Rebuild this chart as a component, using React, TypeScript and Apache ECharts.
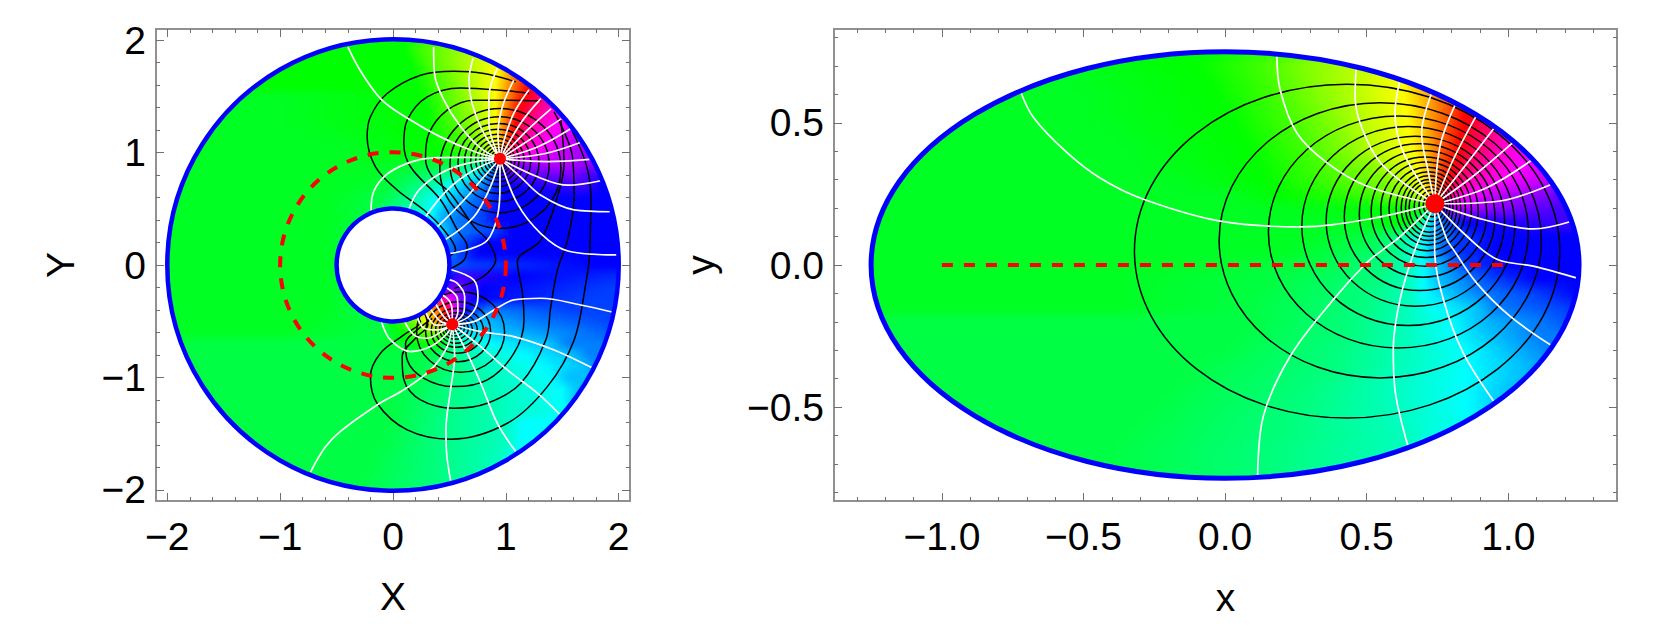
import React, { useEffect, useRef } from "react";
import * as echarts from "echarts";

// hue letters (degrees)
const HUES: Record<string, number> = { a: 0, b: 15, c: 30, d: 45, e: 60, f: 75, g: 90, h: 105, i: 120, I: 128, j: 136, k: 150, l: 165, m: 180, n: 195, o: 210, p: 225, q: 240, r: 255, s: 270, t: 285, u: 300, v: 315, w: 330, x: 345 };

// hue read along each row: letter + the x at which that hue is reached
const LEFT_ROWS_Y_TOP = 2.1, LEFT_STEP = 0.1, LEFT_X0 = -2.1, LEFT_COLS = 43;
const LEFT_ROWS = [
  "i.1 h.3 g.55 f.8 e1 d1.1 c1.2 b1.3 a1.4 x", "i.1 h.3 g.55 f.8 e1 d1.1 c1.2 b1.3 a1.4 x",
  "i.1 h.25 g.5 f.75 e.95 d1.05 c1.15 b1.25 a1.35 x", "i.15 h.3 g.5 f.72 e.93 d1.03 c1.13 b1.25 a1.35 x",
  "i.2 h.35 g.55 f.72 e.92 d1 c1.08 b1.17 a1.27 x1.35 w", "i.2 h.4 g.58 f.74 e.91 d.98 c1.05 b1.13 a1.22 x1.3 w1.4 v",
  "I-1 i.25 h.42 g.6 f.76 e.91 d.97 c1.03 b1.1 a1.17 x1.25 w1.35 v1.45 u", "I-1 i.3 h.45 g.62 f.78 e.91 d.96 c1.01 b1.07 a1.13 x1.2 w1.3 v1.4 u1.55 t",
  "I-1 i.3 h.5 g.66 f.8 e.91 d.95 c1 b1.05 a1.1 x1.15 w1.23 v1.33 u1.5 t", "I-.8 i.3 h.55 g.7 f.82 e.91 d.95 c.99 b1.03 a1.08 x1.13 w1.18 v1.27 u1.45 t1.65 s",
  "I-.5 i.35 h.6 g.75 f.85 e.92 d.95 c.98 b1.01 a1.05 x1.09 w1.14 v1.22 u1.38 t1.6 s1.9 r", "I-.3 i.4 h.7 g.82 f.88 e.92 c.96 a1.01 x1.04 w1.07 v1.12 u1.25 t1.55 s1.85 r",
  "I0 j.5 k.75 m.85 p.93 s1 t1.5 s1.85 r", "I-.2 j.1 k.45 l.6 m.72 n.8 o.85 q.95 r1 s1.6 r",
  "I-.4 j0 k.2 l.38 m.5 n.65 o.8 p.88 q1 r1.7 q", "I-.6 j-.1 k.1 l.25 m.4 n.55 o.7 p.85 q",
  "I-.6 j-.2 k0 l.2 m.35 n.45 o.6 p.8 q", "I-.6 j-.1 k.1 l.25 m.33 n.4 o.55 p.8 q",
  "I-.6 j-.3 l.2 m.4 o.55 p.9 q", "I-.6 j-.3 m.3 o.47 p.65 q",
  "I-.6 j-.3 n.3 p.6 q", "I-.6 j-.3 o.3 p.7 q1.8 q",
  "I-.6 j-.3 r.6 q1.1 p2.4 p", "I-.6 j-.3 s.55 r.65 q.8 p2 p",
  "I-.6 j-.3 w.42 t.55 r.65 q.75 p1.7 p", "I-.6 j-.3 c.4 a.47 u.55 q.64 o.84 p1.6 p",
  "I-.8 j-.1 i0 h.1 g.2 e.3 c.4 a.47 t.52 p.6 n.8 o1.2 p2 p", "I-1 j-.1 i.1 h.2 g.35 h.45 k.5 m.6 n.95 o1.6 p2.2 p",
  "j-.2 i.4 j.45 k.5 l.65 m.85 n1.4 o", "j.3 k.5 l.75 m1.15 n1.6 o",
  "j.2 k.55 l.85 m1.3 n1.7 o", "j.15 k.55 l.9 m1.4 n",
  "j.1 k.5 l.95 m1.5 n", "j0 k.45 l1 m1.5 n",
  "j0 k.45 l1 m1.6 n", "j0 k.4 l1 m",
  "j-.1 k.4 l1 m", "j-.1 k.4 l1 m",
  "j-.2 k.4 l.95 m", "j-.2 k.4 l.95 m",
  "j-.3 k.4 l.9 m", "j-.3 k.4 l.9 m", "j-.3 k.4 l.9 m",
];

const RIGHT_ROWS_Y_TOP = 0.8, RIGHT_STEP = 0.05, RIGHT_X0 = -1.3, RIGHT_COLS = 53;
const RIGHT_ROWS = [
  "I-.7 i-.05 h.2 g.35 f.5 e.62 d.68 c.75 b.82 a.87 x.92 w.98 v1.03 u1.08 t1.14 s1.19 r1.22 q",
  "I-.7 i-.05 h.2 g.35 f.5 e.62 d.68 c.75 b.82 a.87 x.92 w.98 v1.03 u1.08 t1.14 s1.19 r1.22 q",
  "I-.6 i-.1 h.12 g.28 f.47 e.625 d.69 c.76 b.82 a.87 x.92 w.98 v1.03 u1.08 t1.14 s1.19 r1.22 q",
  "I-.55 i-.06 h.15 g.3 f.47 e.63 d.69 c.76 b.81 a.865 x.92 w.98 v1.03 u1.08 t1.14 s1.19 r",
  "I-.5 i-.03 h.17 g.32 f.48 e.63 d.695 c.755 b.81 a.86 x.92 w.98 v1.03 u1.08 t1.14 s",
  "I-.5 i0 h.2 g.35 f.49 e.64 d.7 c.75 b.805 a.85 x.905 w.965 v1.015 u1.08 t1.15 s",
  "I-.45 i.03 h.22 g.38 f.5 e.645 d.7 c.745 b.8 a.845 x.89 w.95 v1 u1.08 t1.17 s",
  "I-.4 i.06 h.25 g.4 f.52 e.655 d.705 c.745 b.79 a.835 x.875 w.93 v.98 u1.06 t1.17 s",
  "I-.35 i.09 h.28 g.43 f.54 e.665 d.71 c.74 b.78 a.825 x.86 w.91 v.96 u1.06 t1.15 s1.25 r",
  "I-.3 i.12 h.32 g.5 f.6 e.68 d.715 c.74 b.77 a.81 x.835 w.875 v.93 u1.03 t1.2 s",
  "I-.2 i.14 h.36 g.57 f.64 e.695 d.72 c.74 b.76 a.79 x.81 w.84 v.88 u.98 t1.14 s",
  "I0 i.2 h.5 g.62 f.68 e.7 d.72 c.74 b.755 a.77 w.79 u.85 t.97 s1.15 r1.21 q",
  "I.1 i.7 t.8 s1 r1.2 q",
  "I.4 i.65 l.7 o.75 q.85 r1.2 q",
  "I.3 j.5 k.6 l.65 m.7 n.73 o.77 p.82 q",
  "I.2 j.4 k.6 l.65 m.7 o.75 p.8 q",
  "I-.3 j.3 k.55 l.65 m.7 n.75 o.8 p.85 q",
  "I-.4 j.2 k.55 l.65 m.7 n.75 o.85 p.95 q",
  "I-.4 j.15 k.5 l.65 m.7 n.8 o.9 p1.1 q",
  "I-.4 j.1 k.5 l.65 m.75 n.9 o.95 p1.2 q",
  "j.1 k.45 l.65 m.8 n.9 o1.1 p",
  "j.05 k.45 l.65 m.8 n.95 o",
  "j0 k.4 l.65 m.85 n1 o",
  "j-.1 k.4 l.65 m.85 n1.05 o",
  "j-.15 k.35 l.6 m.85 n1.05 o",
  "j-.2 k.3 l.6 m.85 n",
  "j-.25 k.3 l.6 m.85 n",
  "j-.3 k.25 l.6 m.9 n",
  "j-.35 k.25 l.65 m",
  "j-.4 k.2 l.65 m",
  "j-.4 k.2 l.65 m",
  "j-.4 k.2 l.65 m",
  "j-.4 k.2 l.65 m",
];

// closed black contours: [centre x, semi-axis x, centre y, semi-axis y]
const LEFT_RINGS = [
  [0.951, 0.536, 0.859, 0.533], [0.944, 0.439, 0.892, 0.427], [0.935, 0.359, 0.911, 0.348], [0.927, 0.293, 0.923, 0.286],
  [0.925, 0.237, 0.93, 0.234], [0.925, 0.192, 0.933, 0.193], [0.925, 0.154, 0.933, 0.157], [0.927, 0.121, 0.935, 0.126],
  [0.93, 0.095, 0.936, 0.1], [0.933, 0.071, 0.936, 0.08], [0.94, 0.05, 0.94, 0.055],
  [0.599, 0.39, -0.596, 0.359], [0.577, 0.288, -0.593, 0.267], [0.57, 0.231, -0.585, 0.2], [0.562, 0.185, -0.578, 0.154],
  [0.558, 0.145, -0.575, 0.121], [0.553, 0.114, -0.568, 0.093], [0.547, 0.087, -0.56, 0.071], [0.54, 0.065, -0.55, 0.055], [0.535, 0.045, -0.54, 0.04],
];
const RIGHT_RINGS = [
  [0.431, 0.751, 0.049, 0.587], [0.548, 0.569, 0.087, 0.484], [0.612, 0.459, 0.116, 0.408], [0.647, 0.376, 0.137, 0.35],
  [0.672, 0.315, 0.154, 0.299], [0.687, 0.266, 0.168, 0.258], [0.699, 0.225, 0.18, 0.223], [0.705, 0.189, 0.188, 0.192],
  [0.71, 0.16, 0.194, 0.168], [0.714, 0.135, 0.197, 0.147], [0.718, 0.114, 0.199, 0.129], [0.72, 0.098, 0.2, 0.114],
  [0.721, 0.084, 0.201, 0.1], [0.722, 0.072, 0.202, 0.087], [0.726, 0.058, 0.205, 0.07], [0.73, 0.045, 0.208, 0.055], [0.733, 0.033, 0.21, 0.04],
];

// open black contours, left panel
const LEFT_BLACK = [
  [[1.087,1.63],[0.806,1.704],[0.54,1.725],[0.244,1.689],[-0.052,1.526],[-0.2,1.319],[-0.229,1.141],[-0.155,0.874],[0.037,0.667],[0.274,0.489],[0.451,0.311],[0.555,0.133],[0.5,0.08]],
  [[1.206,1.526],[0.954,1.556],[0.599,1.576],[0.303,1.496],[0.126,1.289],[0.096,1.082],[0.155,0.874],[0.422,0.578],[0.57,0.311],[0.658,0.163],[0.629,0.044],[0.51,-0.03]],
  [[1.309,1.461],[1.013,1.467],[0.717,1.467],[0.481,1.378],[0.318,1.17],[0.288,0.945],[0.348,0.785],[0.51,0.637],[0.717,0.341],[0.836,0.222],[0.91,0.044],[0.836,-0.074],[0.717,-0.148],[0.54,-0.208]],
  [[1.57,1.23],[1.709,0.904],[1.753,0.608],[1.747,0.222],[1.738,0.044],[1.709,-0.163],[1.605,-0.667],[1.368,-1.082],[1.013,-1.408],[0.51,-1.55],[0.126,-1.467],[-0.141,-1.23],[-0.2,-0.993],[-0.111,-0.785],[0.096,-0.622],[0.244,-0.504],[0.2,-0.46]],
  [[1.427,1.363],[1.59,0.963],[1.605,0.608],[1.546,0.222],[1.457,-0.045],[1.398,-0.37],[1.354,-0.667],[1.132,-1.052],[0.836,-1.23],[0.54,-1.274],[0.244,-1.2],[0.096,-1.02],[0.081,-0.815],[0.214,-0.637],[0.309,-0.534],[0.28,-0.43]],
  [[1.487,1.289],[1.516,0.904],[1.457,0.608],[1.309,0.222],[1.102,0.03],[1.147,-0.252],[1.161,-0.489],[1.072,-0.785],[0.836,-1.022],[0.54,-1.082],[0.274,-1.008],[0.126,-0.845],[0.111,-0.697],[0.214,-0.578],[0.348,-0.474]],
];

const P1 = [0.948, 0.945];
const P2 = [0.525, -0.527];
const LEFT_WHITE = [
  [[-0.4,1.94],[-0.29,1.73],[-0.1,1.47],[0.155,1.29],[0.42,1.14],[0.72,1.01],P1],
  [[0.36,1.94],[0.368,1.7],[0.45,1.47],[0.6,1.23],[0.776,1.04],P1],
  [[0.71,1.84],[0.673,1.645],[0.7,1.44],[0.79,1.2],P1],
  [[0.925,1.75],[0.85,1.5],[0.85,1.26],P1],
  [[1.07,1.645],[0.97,1.41],[0.93,1.17],P1],
  [[1.205,1.56],[1.07,1.35],[0.984,1.11],P1],
  [[1.31,1.48],[1.13,1.26],P1],
  [[1.4,1.39],[1.19,1.2],P1],
  [[1.49,1.3],[1.25,1.14],P1],
  [[1.57,1.21],[1.28,1.05],P1],
  [[1.66,1.09],[1.34,0.99],P1],
  [[1.74,0.94],[1.37,0.92],[1.13,0.93],P1],
  [[1.84,0.75],[1.55,0.71],[1.28,0.785],P1],
  [[1.92,0.474],[1.605,0.49],[1.31,0.62],[1.13,0.785],P1],
  [P1,[1.1,0.55],[1.31,0.28],[1.55,0.125],[1.99,0.09]],
  [P1,[0.948,0.7],[0.925,0.43],[0.836,0.22],[0.673,0.14],[0.49,0.1]],
  [[-0.194,0.474],[-0.185,0.607],[-0.08,0.785],[0.126,0.904],[0.362,0.954],[0.658,0.957],P1],
  [[0.14,0.495],[0.23,0.667],[0.42,0.815],[0.658,0.904],P1],
  [[0.288,0.43],[0.48,0.667],[0.717,0.845],P1],
  [[0.392,0.34],[0.629,0.578],[0.806,0.785],P1],
  [[0.466,0.228],[0.717,0.43],[0.865,0.7],P1],
  [P2,[0.546,-0.815],[0.51,-1.11],[0.469,-1.467],[0.475,-1.675],[0.51,-1.917]],
  [P2,[0.658,-0.785],[0.777,-1.05],[0.925,-1.41],[1.087,-1.66]],
  [P2,[0.777,-0.726],[1.013,-0.934],[1.28,-1.14],[1.478,-1.33]],
  [P2,[0.777,-0.593],[1.07,-0.637],[1.427,-0.756],[1.759,-0.913]],
  [P2,[0.717,-0.504],[0.895,-0.4],[1.07,-0.311],[1.309,-0.296],[1.664,-0.356],[1.94,-0.418]],
  [P2,[0.481,-0.726],[0.333,-0.934],[0.096,-1.11],[-0.14,-1.245],[-0.466,-1.48],[-0.6,-1.62],[-0.73,-1.84]],
  [P2,[0.688,-0.445],[0.753,-0.282],[0.717,-0.134],[0.51,-0.04]],
  [P2,[0.629,-0.415],[0.635,-0.282],[0.57,-0.163],[0.481,-0.128]],
  [P2,[0.575,-0.415],[0.57,-0.296],[0.47,-0.2]],
  [P2,[0.525,-0.415],[0.504,-0.326],[0.43,-0.26]],
  [[-0.102,-0.504],[-0.022,-0.667],[0.155,-0.77],[0.333,-0.726],[0.481,-0.608],P2],
  [[0.096,-0.489],[0.185,-0.622],[0.303,-0.652],[0.451,-0.578],P2],
  [[0.215,-0.46],[0.274,-0.563],[0.392,-0.578],P2],
  [[0.288,-0.42],[0.38,-0.535],P2],
  [[0.333,-0.39],[0.42,-0.5],P2],
  [[0.377,-0.345],[0.45,-0.46],P2],
  [[0.42,-0.29],[0.48,-0.42],P2],
];

const P3 = [0.741, 0.215];
const RIGHT_WHITE = [
  [[-0.723,0.612],[-0.676,0.518],[-0.558,0.395],[-0.44,0.305],[-0.288,0.231],[-0.017,0.154],[0.265,0.134],[0.5,0.16],P3],
  [[0.183,0.741],[0.194,0.618],[0.253,0.465],[0.359,0.36],[0.5,0.278],P3],
  [[0.463,0.694],[0.459,0.594],[0.5,0.442],[0.571,0.336],P3],
  [[0.618,0.651],[0.6,0.536],[0.63,0.395],P3],
  [[0.73,0.606],[0.694,0.465],[0.718,0.325],P3],
  [[0.814,0.567],[0.759,0.418],P3],
  [[0.888,0.526],[0.806,0.371],P3],
  [[0.953,0.485],[0.847,0.348],P3],
  [[1.018,0.432],[0.877,0.313],P3],
  [[1.086,0.371],[0.924,0.272],P3],
  [[1.157,0.286],[0.971,0.225],P3],
  [[1.224,0.154],[1.088,0.127],[0.912,0.16],P3],
  [P3,[0.853,0.102],[0.96,0.02],[1.088,-0.004],[1.25,-0.048]],
  [P3,[0.783,0.09],[0.806,0.055],[0.888,-0.063],[1.006,-0.18],[1.157,-0.286]],
  [P3,[0.74,0.055],[0.771,-0.121],[0.841,-0.309],[0.953,-0.485]],
  [P3,[0.671,0.055],[0.618,-0.121],[0.594,-0.297],[0.6,-0.438],[0.647,-0.64]],
  [P3,[0.618,0.1],[0.559,0.055],[0.5,0.008],[0.383,-0.121],[0.23,-0.321],[0.135,-0.532],[0.115,-0.744]],
];

const RIGHT_DASH = [[-1, 0], [1, 0]];
const LEFT_RADII = { outer: 2, hole: 0.5, dash: 1 };
const RIGHT_SEMI = { a: 1.25, b: 0.75 };
const LEFT_POLES = [P1, P2];
const RIGHT_POLES = [P3];

const LEFT_MAJOR = [-2, -1, 0, 1, 2];
const LEFT_MINOR = [-2, -1.8, -1.6, -1.4, -1.2, -1, -0.8, -0.6, -0.4, -0.2, 0, 0.2, 0.4, 0.6, 0.8, 1, 1.2, 1.4, 1.6, 1.8, 2];
const RIGHT_X_MAJOR = [-1, -0.5, 0, 0.5, 1];
const RIGHT_X_MINOR = [-1.3, -1.2, -1.1, -1, -0.9, -0.8, -0.7, -0.6, -0.5, -0.4, -0.3, -0.2, -0.1, 0, 0.1, 0.2, 0.3, 0.4, 0.5, 0.6, 0.7, 0.8, 0.9, 1, 1.1, 1.2, 1.3];
const RIGHT_Y_MAJOR = [-0.5, 0, 0.5];
const RIGHT_Y_MINOR = [-0.8, -0.7, -0.6, -0.5, -0.4, -0.3, -0.2, -0.1, 0, 0.1, 0.2, 0.3, 0.4, 0.5, 0.6, 0.7, 0.8];

const FONT = "Liberation Sans";
const FS = 39;
const BLUE = "#0000ff";
const RED = "#ff0000";
const FINE = 4;

function hsv(h: number) {
  const c = (n: number) => {
    const k = (n + h / 60) % 6;
    return Math.round(255 * (1 - Math.max(0, Math.min(k, 4 - k, 1))));
  };
  return [c(5), c(3), c(1)];
}

function bandsImage(rows: string[], x0: number, step: number, cols: number) {
  const w = cols * FINE;
  const cv = document.createElement("canvas");
  cv.width = w;
  cv.height = rows.length;
  const ctx = cv.getContext("2d")!;
  const im = ctx.createImageData(w, rows.length);
  rows.forEach((row, r) => {
    const raw = row.split(" ");
    const tokens = raw.map((t, i) => ({ h: HUES[t[0]], at: t.length > 1 ? parseFloat(t.slice(1)) : parseFloat(raw[i - 1].slice(1)) + 0.15 }));
    for (let c = 0; c < w; c++) {
      const x = x0 - step / 2 + ((c + 0.5) * step) / FINE;
      let h = tokens[tokens.length - 1].h;
      if (x <= tokens[0].at) h = tokens[0].h;
      else
        for (let k = 1; k < tokens.length; k++) {
          if (x <= tokens[k].at) {
            const a = tokens[k - 1], b = tokens[k];
            const d = ((b.h - a.h + 540) % 360) - 180;
            h = (a.h + (d * (x - a.at)) / (b.at - a.at) + 360) % 360;
            break;
          }
        }
      const [R, G, B] = hsv(h);
      const o = (r * w + c) * 4;
      im.data[o] = R; im.data[o + 1] = G; im.data[o + 2] = B; im.data[o + 3] = 255;
    }
  });
  ctx.putImageData(im, 0, 0);
  const big = document.createElement("canvas");
  big.width = w;
  big.height = rows.length * FINE;
  const bctx = big.getContext("2d")!;
  bctx.imageSmoothingEnabled = true;
  bctx.imageSmoothingQuality = "high";
  bctx.drawImage(cv, 0, 0, big.width, big.height);
  return big.toDataURL();
}

function axes(kind: "x" | "y", grid: number, ext: number[], major: number[], minor: number[], name: string, fmt: (v: number) => string, gap: number) {
  const pos = kind === "x" ? ["bottom", "top"] : ["left", "right"];
  const base = (p: string, vals: number[], len: number) => ({
    type: "value", gridIndex: grid, position: p, min: ext[0], max: ext[1],
    splitLine: { show: false },
    axisLine: { show: true, onZero: false, lineStyle: { color: "#8a8a8a", width: 1.5 } },
    axisTick: { show: true, inside: true, length: len, customValues: vals, lineStyle: { color: "#707070", width: 1 } },
    axisLabel: { show: false },
  });
  const main: any = base(pos[0], major, 8);
  main.axisLabel = { show: true, customValues: major, formatter: fmt, fontFamily: FONT, fontSize: FS, color: "#000", margin: kind === "x" ? 16 : 10 };
  main.name = name;
  main.nameLocation = "middle";
  main.nameGap = gap;
  main.nameTextStyle = { fontFamily: FONT, fontSize: FS, color: "#000" };
  return [main, base(pos[0], minor, 4), base(pos[1], major, 8), base(pos[1], minor, 4)];
}

function lineSeries(pts: number[][], color: string, width: number, ax: number) {
  return { type: "line", data: pts, smooth: 0.35, symbol: "none", silent: true, xAxisIndex: ax, yAxisIndex: ax, lineStyle: { color, width }, z: 3 };
}

export default function App() {
  const ref = useRef<HTMLDivElement>(null);
  useEffect(() => {
    const chart = echarts.init(ref.current!, undefined, { renderer: "svg" });
    const leftImg = bandsImage(LEFT_ROWS, LEFT_X0, LEFT_STEP, LEFT_COLS);
    const rightImg = bandsImage(RIGHT_ROWS, RIGHT_X0, RIGHT_STEP, RIGHT_COLS);
    const lf = (v: number) => String(v).replace("-", "\u2212");
    const rf = (v: number) => v.toFixed(1).replace("-", "\u2212");

    const fillSeries = (ax: number, img: string, x0: number, yTop: number, step: number, cols: number, nRows: number, rings: number[][], clip: (api: any) => any) => ({
      type: "custom", xAxisIndex: ax, yAxisIndex: ax, silent: true, data: [[0, 0]], z: 2,
      renderItem: (_: any, api: any) => {
        const tl = api.coord([x0 - step / 2, yTop + step / 2]);
        const br = api.coord([x0 + (cols - 0.5) * step, yTop - (nRows - 0.5) * step]);
        const children: any[] = [{ type: "image", style: { image: img, x: tl[0], y: tl[1], width: br[0] - tl[0], height: br[1] - tl[1] } }];
        rings.forEach((r) => {
          const c = api.coord([r[0], r[2]]);
          const s = api.size([r[1], r[3]], [r[0], r[2]]);
          children.push({ type: "ellipse", shape: { cx: c[0], cy: c[1], rx: s[0], ry: s[1] }, style: { fill: "none", stroke: "#000", lineWidth: 1.5 } });
        });
        return { type: "group", children, clipPath: clip(api) };
      },
    });

    const leftClip = (api: any) => {
      const c = api.coord([0, 0]);
      const s = api.size([LEFT_RADII.outer, LEFT_RADII.outer], [0, 0]);
      return { type: "ellipse", shape: { cx: c[0], cy: c[1], rx: s[0], ry: s[1] } };
    };
    const rightClip = (api: any) => {
      const c = api.coord([0, 0]);
      const s = api.size([RIGHT_SEMI.a, RIGHT_SEMI.b], [0, 0]);
      return { type: "ellipse", shape: { cx: c[0], cy: c[1], rx: s[0], ry: s[1] } };
    };

    const option: any = {
      animation: false,
      grid: [
        { left: 156, top: 29, width: 474, height: 472 },
        { left: 834, top: 29, width: 783, height: 472 },
      ],
      xAxis: [
        ...axes("x", 0, [-2.1, 2.1], LEFT_MAJOR, LEFT_MINOR, "X", lf, 76),
        ...axes("x", 1, [-1.381, 1.384], RIGHT_X_MAJOR, RIGHT_X_MINOR, "x", rf, 77),
      ],
      yAxis: [
        ...axes("y", 0, [-2.1, 2.1], LEFT_MAJOR, LEFT_MINOR, "Y", lf, 76),
        ...axes("y", 1, [-0.83, 0.83], RIGHT_Y_MAJOR, RIGHT_Y_MINOR, "y", rf, 114),
      ],
      series: [
        fillSeries(0, leftImg, LEFT_X0, LEFT_ROWS_Y_TOP, LEFT_STEP, LEFT_COLS, LEFT_ROWS.length, LEFT_RINGS, leftClip),
        fillSeries(4, rightImg, RIGHT_X0, RIGHT_ROWS_Y_TOP, RIGHT_STEP, RIGHT_COLS, RIGHT_ROWS.length, RIGHT_RINGS, rightClip),
        ...LEFT_BLACK.map((p) => lineSeries(p, "#000", 1.5, 0)),
        ...LEFT_WHITE.map((p) => lineSeries(p, "#fff", 1.7, 0)),
        ...RIGHT_WHITE.map((p) => lineSeries(p, "#fff", 1.7, 4)),
        {
          type: "custom", xAxisIndex: 0, yAxisIndex: 0, silent: true, data: [[0, 0]], z: 4,
          renderItem: (_: any, api: any) => {
            const c = api.coord([0, 0]);
            const px = (r: number) => api.size([r, r], [0, 0])[0];
            return {
              type: "group",
              children: [
                { type: "circle", shape: { cx: c[0], cy: c[1], r: px(LEFT_RADII.outer) }, style: { fill: "none", stroke: BLUE, lineWidth: 4.5 } },
                { type: "circle", shape: { cx: c[0], cy: c[1], r: px(LEFT_RADII.hole) }, style: { fill: "#fff", stroke: BLUE, lineWidth: 4.5 } },
                { type: "circle", shape: { cx: c[0], cy: c[1], r: px(LEFT_RADII.dash) }, style: { fill: "none", stroke: RED, lineWidth: 4, lineDash: [11, 11] } },
              ],
            };
          },
        },
        {
          type: "custom", xAxisIndex: 4, yAxisIndex: 4, silent: true, data: [[0, 0]], z: 4,
          renderItem: (_: any, api: any) => {
            const c = api.coord([0, 0]);
            const s = api.size([RIGHT_SEMI.a, RIGHT_SEMI.b], [0, 0]);
            return { type: "ellipse", shape: { cx: c[0], cy: c[1], rx: s[0], ry: s[1] }, style: { fill: "none", stroke: BLUE, lineWidth: 5 } };
          },
        },
        { type: "line", data: RIGHT_DASH, symbol: "none", silent: true, xAxisIndex: 4, yAxisIndex: 4, z: 5, lineStyle: { color: RED, width: 4, type: [11, 11] } },
        { type: "scatter", data: LEFT_POLES, symbol: "circle", symbolSize: 12, silent: true, xAxisIndex: 0, yAxisIndex: 0, z: 6, itemStyle: { color: RED, opacity: 1 } },
        { type: "scatter", data: RIGHT_POLES, symbol: "circle", symbolSize: 19, silent: true, xAxisIndex: 4, yAxisIndex: 4, z: 6, itemStyle: { color: RED, opacity: 1 } },
      ],
    };
    chart.setOption(option);
    return () => chart.dispose();
  }, []);
  return <div ref={ref} style={{ position: "absolute", left: 0, top: 0, width: 1661, height: 642, background: "#fff" }} />;
}
